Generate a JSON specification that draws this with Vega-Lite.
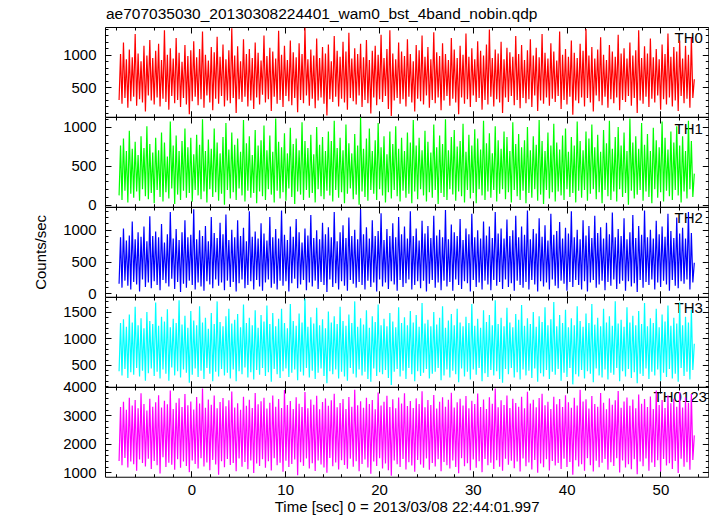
{
"$schema": "https://vega.github.io/schema/vega-lite/v6.json",
"padding": {"left": 33, "top": 6, "right": 0, "bottom": 0},
"config": {
  "view": {"stroke": "#000", "strokeWidth": 1},
  "font": "Liberation Sans",
  "axis": {"grid": false, "domain": false, "labelFont": "Liberation Sans", "labelFontSize": 15, "labelColor": "#000", "tickColor": "#000", "tickWidth": 1, "titleFont": "Liberation Sans", "titleFontSize": 15, "titleFontWeight": "normal", "titleColor": "#000", "labelFlush": false, "format": "d"}
},
"bounds": "flush",
"spacing": 0,
"datasets": {"lc": [
{"t":-7.7,"a":300,"b":120,"c":150,"d":380,"e":1400},
{"t":-7.544,"a":1010,"b":760,"c":880,"d":1290,"e":3300},
{"t":-7.388,"a":240,"b":60,"c":90,"d":300,"e":1250},
{"t":-7.232,"a":1190,"b":850,"c":1020,"d":1360,"e":3480},
{"t":-7.076,"a":330,"b":180,"c":200,"d":420,"e":1510},
{"t":-6.92,"a":930,"b":690,"c":830,"d":1220,"e":3200},
{"t":-6.764,"a":180,"b":30,"c":120,"d":250,"e":1170},
{"t":-6.608,"a":1080,"b":950,"c":910,"d":1450,"e":3620},
{"t":-6.452,"a":280,"b":140,"c":60,"d":360,"e":1380},
{"t":-6.296,"a":960,"b":720,"c":1130,"d":1300,"e":3350},
{"t":-6.14,"a":350,"b":90,"c":180,"d":310,"e":1290},
{"t":-5.984,"a":1320,"b":810,"c":850,"d":1600,"e":3540},
{"t":-5.828,"a":210,"b":170,"c":140,"d":440,"e":1060},
{"t":-5.672,"a":1020,"b":640,"c":960,"d":1250,"e":3250},
{"t":-5.516,"a":310,"b":50,"c":30,"d":280,"e":1450},
{"t":-5.36,"a":900,"b":880,"c":890,"d":1380,"e":3780},
{"t":-5.204,"a":260,"b":200,"c":220,"d":390,"e":1330},
{"t":-5.048,"a":1140,"b":730,"c":1050,"d":1190,"e":3400},
{"t":-4.892,"a":120,"b":110,"c":100,"d":200,"e":1210},
{"t":-4.736,"a":990,"b":1010,"c":820,"d":1500,"e":3170},
{"t":-4.58,"a":370,"b":70,"c":170,"d":340,"e":1480},
{"t":-4.424,"a":1230,"b":780,"c":1210,"d":1330,"e":3590},
{"t":-4.268,"a":290,"b":150,"c":80,"d":430,"e":1120},
{"t":-4.112,"a":950,"b":670,"c":900,"d":1270,"e":3310},
{"t":-3.956,"a":230,"b":20,"c":190,"d":290,"e":1400},
{"t":-3.8,"a":1060,"b":860,"c":970,"d":1680,"e":3460},
{"t":-3.644,"a":340,"b":190,"c":130,"d":370,"e":1250},
{"t":-3.488,"a":1170,"b":700,"c":880,"d":1240,"e":3710},
{"t":-3.332,"a":200,"b":100,"c":50,"d":240,"e":960},
{"t":-3.176,"a":920,"b":930,"c":1090,"d":1410,"e":3280},
{"t":-3.02,"a":320,"b":40,"c":210,"d":410,"e":1530},
{"t":-2.864,"a":1380,"b":800,"c":800,"d":1320,"e":3520},
{"t":-2.708,"a":270,"b":160,"c":160,"d":330,"e":1190},
{"t":-2.552,"a":1000,"b":620,"c":930,"d":1550,"e":3390},
{"t":-2.396,"a":150,"b":80,"c":110,"d":200,"e":1340},
{"t":-2.24,"a":1100,"b":1070,"c":1280,"d":1210,"e":3880},
{"t":-2.084,"a":360,"b":210,"c":230,"d":450,"e":1270},
{"t":-1.928,"a":940,"b":760,"c":860,"d":1370,"e":3230},
{"t":-1.772,"a":250,"b":10,"c":70,"d":300,"e":1090},
{"t":-1.616,"a":1260,"b":890,"c":1010,"d":1290,"e":3450},
{"t":-1.46,"a":300,"b":130,"c":180,"d":380,"e":1460},
{"t":-1.304,"a":1030,"b":690,"c":840,"d":1720,"e":3600},
{"t":-1.148,"a":190,"b":60,"c":20,"d":260,"e":1160},
{"t":-0.992,"a":890,"b":820,"c":960,"d":1260,"e":3300},
{"t":-0.836,"a":330,"b":180,"c":150,"d":410,"e":1380},
{"t":-0.68,"a":1150,"b":980,"c":1150,"d":1430,"e":3750},
{"t":-0.524,"a":230,"b":90,"c":90,"d":350,"e":1230},
{"t":-0.368,"a":980,"b":740,"c":880,"d":1200,"e":3360},
{"t":-0.212,"a":80,"b":150,"c":200,"d":160,"e":1010},
{"t":-0.056,"a":1070,"b":860,"c":920,"d":1520,"e":3490},
{"t":0.1,"a":280,"b":40,"c":130,"d":310,"e":1420},
{"t":0.256,"a":1210,"b":650,"c":1320,"d":1340,"e":3210},
{"t":0.412,"a":350,"b":190,"c":60,"d":430,"e":1300},
{"t":0.568,"a":960,"b":900,"c":850,"d":1250,"e":3650},
{"t":0.724,"a":220,"b":120,"c":170,"d":270,"e":1140},
{"t":0.88,"a":1090,"b":770,"c":990,"d":1610,"e":3420},
{"t":1.036,"a":310,"b":70,"c":110,"d":390,"e":1500},
{"t":1.192,"a":1360,"b":1100,"c":900,"d":1300,"e":3950},
{"t":1.348,"a":180,"b":170,"c":40,"d":230,"e":1210},
{"t":1.504,"a":1000,"b":690,"c":1060,"d":1390,"e":3270},
{"t":1.66,"a":370,"b":30,"c":190,"d":440,"e":1350},
{"t":1.816,"a":910,"b":840,"c":820,"d":1180,"e":3560},
{"t":1.972,"a":260,"b":200,"c":140,"d":330,"e":1080},
{"t":2.128,"a":1120,"b":720,"c":1200,"d":1480,"e":3380},
{"t":2.284,"a":140,"b":100,"c":80,"d":190,"e":1440},
{"t":2.44,"a":1040,"b":980,"c":950,"d":1270,"e":3700},
{"t":2.596,"a":320,"b":160,"c":220,"d":370,"e":1280},
{"t":2.752,"a":1280,"b":800,"c":870,"d":1700,"e":3250},
{"t":2.908,"a":240,"b":50,"c":120,"d":280,"e":920},
{"t":3.064,"a":970,"b":660,"c":1110,"d":1310,"e":3470},
{"t":3.22,"a":360,"b":140,"c":170,"d":420,"e":1390},
{"t":3.376,"a":1160,"b":870,"c":930,"d":1230,"e":3610},
{"t":3.532,"a":200,"b":0,"c":50,"d":300,"e":1180},
{"t":3.688,"a":930,"b":1050,"c":1240,"d":1420,"e":3320},
{"t":3.844,"a":290,"b":190,"c":200,"d":350,"e":1470},
{"t":4,"a":1070,"b":710,"c":840,"d":1560,"e":3530},
{"t":4.156,"a":250,"b":80,"c":100,"d":240,"e":1260},
{"t":4.312,"a":1410,"b":930,"c":1000,"d":1280,"e":3840},
{"t":4.468,"a":330,"b":160,"c":180,"d":410,"e":1330},
{"t":4.624,"a":990,"b":770,"c":880,"d":1350,"e":3280},
{"t":4.78,"a":100,"b":60,"c":30,"d":190,"e":1040},
{"t":4.936,"a":1130,"b":850,"c":1150,"d":1460,"e":3430},
{"t":5.092,"a":310,"b":210,"c":160,"d":380,"e":1490},
{"t":5.248,"a":900,"b":680,"c":900,"d":1210,"e":3200},
{"t":5.404,"a":270,"b":120,"c":220,"d":320,"e":1200},
{"t":5.56,"a":1240,"b":1090,"c":1030,"d":1640,"e":3660},
{"t":5.716,"a":350,"b":40,"c":80,"d":450,"e":1370},
{"t":5.872,"a":1010,"b":790,"c":820,"d":1290,"e":3340},
{"t":6.028,"a":200,"b":180,"c":130,"d":260,"e":1110},
{"t":6.184,"a":1090,"b":880,"c":1290,"d":1390,"e":3550},
{"t":6.34,"a":290,"b":90,"c":190,"d":360,"e":1420},
{"t":6.496,"a":950,"b":640,"c":890,"d":1250,"e":3260},
{"t":6.652,"a":160,"b":150,"c":60,"d":220,"e":980},
{"t":6.808,"a":1190,"b":960,"c":970,"d":1530,"e":3790},
{"t":6.964,"a":340,"b":20,"c":210,"d":400,"e":1310},
{"t":7.12,"a":1030,"b":760,"c":860,"d":1200,"e":3390},
{"t":7.276,"a":230,"b":170,"c":110,"d":310,"e":1230},
{"t":7.432,"a":910,"b":830,"c":1100,"d":1440,"e":3500},
{"t":7.588,"a":380,"b":110,"c":40,"d":440,"e":1460},
{"t":7.744,"a":1300,"b":1020,"c":940,"d":1320,"e":3620},
{"t":7.9,"a":260,"b":60,"c":170,"d":290,"e":1160},
{"t":8.056,"a":980,"b":700,"c":830,"d":1620,"e":3240},
{"t":8.212,"a":310,"b":200,"c":220,"d":360,"e":1390},
{"t":8.368,"a":1110,"b":890,"c":1200,"d":1270,"e":3450},
{"t":8.524,"a":130,"b":130,"c":90,"d":180,"e":1070},
{"t":8.68,"a":1050,"b":680,"c":880,"d":1480,"e":3700},
{"t":8.836,"a":350,"b":30,"c":150,"d":420,"e":1500},
{"t":8.992,"a":940,"b":1110,"c":1010,"d":1230,"e":3310},
{"t":9.148,"a":240,"b":180,"c":60,"d":320,"e":1250},
{"t":9.304,"a":1370,"b":810,"c":860,"d":1370,"e":3580},
{"t":9.46,"a":300,"b":80,"c":200,"d":250,"e":1340},
{"t":9.616,"a":1000,"b":740,"c":1300,"d":1560,"e":3260},
{"t":9.772,"a":190,"b":160,"c":120,"d":380,"e":1020},
{"t":9.928,"a":1140,"b":920,"c":920,"d":1290,"e":3890},
{"t":10.084,"a":360,"b":50,"c":190,"d":430,"e":1410},
{"t":10.24,"a":920,"b":660,"c":840,"d":1190,"e":3370},
{"t":10.396,"a":280,"b":210,"c":30,"d":270,"e":1190},
{"t":10.552,"a":1220,"b":990,"c":1050,"d":1650,"e":3510},
{"t":10.708,"a":220,"b":100,"c":160,"d":350,"e":1300},
{"t":10.864,"a":1040,"b":780,"c":890,"d":1330,"e":3230},
{"t":11.02,"a":330,"b":10,"c":230,"d":410,"e":1450},
{"t":11.176,"a":960,"b":850,"c":1170,"d":1240,"e":3640},
{"t":11.332,"a":110,"b":170,"c":80,"d":210,"e":900},
{"t":11.488,"a":1180,"b":700,"c":960,"d":1470,"e":3410},
{"t":11.644,"a":300,"b":130,"c":140,"d":370,"e":1360},
{"t":11.8,"a":1010,"b":1060,"c":800,"d":1300,"e":3300},
{"t":11.956,"a":250,"b":60,"c":210,"d":300,"e":1230},
{"t":12.112,"a":1420,"b":820,"c":1020,"d":1750,"e":3820},
{"t":12.268,"a":370,"b":190,"c":50,"d":440,"e":1490},
{"t":12.424,"a":930,"b":730,"c":910,"d":1220,"e":3250},
{"t":12.58,"a":210,"b":90,"c":170,"d":260,"e":1140},
{"t":12.736,"a":1080,"b":900,"c":1230,"d":1400,"e":3560},
{"t":12.892,"a":320,"b":150,"c":110,"d":390,"e":1320},
{"t":13.048,"a":990,"b":650,"c":870,"d":1280,"e":3380},
{"t":13.204,"a":170,"b":30,"c":200,"d":230,"e":1050},
{"t":13.36,"a":1250,"b":1000,"c":990,"d":1580,"e":3690},
{"t":13.516,"a":290,"b":200,"c":70,"d":350,"e":1420},
{"t":13.672,"a":950,"b":770,"c":850,"d":1250,"e":3220},
{"t":13.828,"a":340,"b":110,"c":180,"d":430,"e":1280},
{"t":13.984,"a":1120,"b":870,"c":1110,"d":1360,"e":3470},
{"t":14.14,"a":240,"b":70,"c":130,"d":290,"e":1170},
{"t":14.296,"a":1020,"b":690,"c":930,"d":1190,"e":3600},
{"t":14.452,"a":60,"b":180,"c":20,"d":150,"e":990},
{"t":14.608,"a":1160,"b":940,"c":1040,"d":1510,"e":3340},
{"t":14.764,"a":310,"b":120,"c":220,"d":380,"e":1510},
{"t":14.92,"a":900,"b":820,"c":880,"d":1300,"e":3530},
{"t":15.076,"a":270,"b":40,"c":100,"d":320,"e":1220},
{"t":15.232,"a":1290,"b":1080,"c":1280,"d":1420,"e":3760},
{"t":15.388,"a":350,"b":190,"c":160,"d":410,"e":1350},
{"t":15.544,"a":1060,"b":730,"c":820,"d":1270,"e":3290},
{"t":15.7,"a":200,"b":90,"c":60,"d":240,"e":1100},
{"t":15.856,"a":970,"b":860,"c":960,"d":1600,"e":3440},
{"t":16.012,"a":320,"b":160,"c":190,"d":370,"e":1430},
{"t":16.168,"a":1200,"b":700,"c":1070,"d":1330,"e":3580},
{"t":16.324,"a":260,"b":20,"c":120,"d":280,"e":1260},
{"t":16.48,"a":1050,"b":1030,"c":870,"d":1240,"e":3230},
{"t":16.636,"a":150,"b":140,"c":40,"d":200,"e":1130},
{"t":16.792,"a":1340,"b":790,"c":1190,"d":1450,"e":3650},
{"t":16.948,"a":330,"b":210,"c":210,"d":440,"e":1480},
{"t":17.104,"a":940,"b":660,"c":900,"d":1290,"e":3310},
{"t":17.26,"a":280,"b":70,"c":150,"d":330,"e":1200},
{"t":17.416,"a":1100,"b":910,"c":1000,"d":1700,"e":3900},
{"t":17.572,"a":230,"b":130,"c":90,"d":260,"e":1390},
{"t":17.728,"a":1010,"b":760,"c":850,"d":1220,"e":3360},
{"t":17.884,"a":370,"b":0,"c":180,"d":410,"e":1040},
{"t":18.04,"a":1170,"b":1120,"c":1320,"d":1380,"e":3500},
{"t":18.196,"a":190,"b":170,"c":130,"d":300,"e":1300},
{"t":18.352,"a":960,"b":720,"c":930,"d":1260,"e":3270},
{"t":18.508,"a":300,"b":100,"c":60,"d":370,"e":1450},
{"t":18.664,"a":1230,"b":850,"c":1040,"d":1530,"e":3620},
{"t":18.82,"a":250,"b":50,"c":200,"d":230,"e":1170},
{"t":18.976,"a":920,"b":980,"c":860,"d":1200,"e":3400},
{"t":19.132,"a":90,"b":190,"c":100,"d":180,"e":950},
{"t":19.288,"a":1060,"b":690,"c":1150,"d":1420,"e":3540},
{"t":19.444,"a":340,"b":140,"c":170,"d":430,"e":1380},
{"t":19.6,"a":1140,"b":830,"c":900,"d":1310,"e":3220},
{"t":19.756,"a":220,"b":60,"c":30,"d":290,"e":1230},
{"t":19.912,"a":1000,"b":1050,"c":980,"d":1640,"e":3810},
{"t":20.068,"a":310,"b":200,"c":220,"d":360,"e":1500},
{"t":20.224,"a":1310,"b":740,"c":1260,"d":1250,"e":3350},
{"t":20.38,"a":270,"b":120,"c":110,"d":320,"e":1140},
{"t":20.536,"a":950,"b":880,"c":840,"d":1370,"e":3480},
{"t":20.692,"a":360,"b":30,"c":170,"d":400,"e":1310},
{"t":20.848,"a":1090,"b":650,"c":1010,"d":1230,"e":3690},
{"t":21.004,"a":160,"b":160,"c":70,"d":250,"e":1080},
{"t":21.16,"a":1380,"b":940,"c":900,"d":1480,"e":3300},
{"t":21.316,"a":50,"b":80,"c":190,"d":120,"e":880},
{"t":21.472,"a":1020,"b":780,"c":1100,"d":1320,"e":3570},
{"t":21.628,"a":290,"b":190,"c":140,"d":370,"e":1420},
{"t":21.784,"a":930,"b":1010,"c":880,"d":1210,"e":3250},
{"t":21.94,"a":330,"b":110,"c":40,"d":420,"e":1290},
{"t":22.096,"a":1190,"b":720,"c":1200,"d":1590,"e":3630},
{"t":22.252,"a":240,"b":40,"c":210,"d":280,"e":1190},
{"t":22.408,"a":1050,"b":860,"c":930,"d":1290,"e":3420},
{"t":22.564,"a":310,"b":180,"c":100,"d":390,"e":1470},
{"t":22.72,"a":980,"b":690,"c":1050,"d":1400,"e":3780},
{"t":22.876,"a":200,"b":90,"c":160,"d":230,"e":1100},
{"t":23.032,"a":1240,"b":930,"c":860,"d":1250,"e":3330},
{"t":23.188,"a":350,"b":140,"c":220,"d":440,"e":1360},
{"t":23.344,"a":1010,"b":800,"c":1290,"d":1520,"e":3510},
{"t":23.5,"a":260,"b":20,"c":60,"d":320,"e":1240},
{"t":23.656,"a":900,"b":1090,"c":900,"d":1300,"e":3260},
{"t":23.812,"a":120,"b":170,"c":130,"d":190,"e":1020},
{"t":23.968,"a":1150,"b":760,"c":1020,"d":1440,"e":3600},
{"t":24.124,"a":320,"b":70,"c":190,"d":380,"e":1440},
{"t":24.28,"a":1070,"b":860,"c":830,"d":1220,"e":3400},
{"t":24.436,"a":280,"b":200,"c":80,"d":290,"e":1280},
{"t":24.592,"a":1300,"b":700,"c":1140,"d":1670,"e":3850},
{"t":24.748,"a":230,"b":120,"c":200,"d":350,"e":1160},
{"t":24.904,"a":970,"b":950,"c":940,"d":1280,"e":3290},
{"t":25.06,"a":370,"b":40,"c":30,"d":420,"e":1490},
{"t":25.216,"a":1120,"b":810,"c":1060,"d":1350,"e":3540},
{"t":25.372,"a":180,"b":160,"c":150,"d":240,"e":1090},
{"t":25.528,"a":930,"b":670,"c":870,"d":1230,"e":3370},
{"t":25.684,"a":300,"b":90,"c":210,"d":330,"e":1330},
{"t":25.84,"a":1350,"b":1030,"c":1220,"d":1500,"e":3720},
{"t":25.996,"a":250,"b":190,"c":90,"d":370,"e":1210},
{"t":26.152,"a":1040,"b":740,"c":910,"d":1260,"e":3240},
{"t":26.308,"a":340,"b":10,"c":170,"d":440,"e":1460},
{"t":26.464,"a":980,"b":890,"c":1000,"d":1390,"e":3480},
{"t":26.62,"a":140,"b":150,"c":50,"d":210,"e":1040},
{"t":26.776,"a":1180,"b":780,"c":880,"d":1610,"e":3640},
{"t":26.932,"a":290,"b":100,"c":200,"d":300,"e":1370},
{"t":27.088,"a":1010,"b":1100,"c":1310,"d":1200,"e":3310},
{"t":27.244,"a":360,"b":60,"c":110,"d":410,"e":1250},
{"t":27.4,"a":920,"b":700,"c":850,"d":1340,"e":3550},
{"t":27.556,"a":210,"b":200,"c":180,"d":260,"e":1140},
{"t":27.712,"a":1260,"b":870,"c":1080,"d":1460,"e":3800},
{"t":27.868,"a":320,"b":130,"c":40,"d":390,"e":1420},
{"t":28.024,"a":1080,"b":960,"c":960,"d":1250,"e":3280},
{"t":28.18,"a":260,"b":50,"c":220,"d":320,"e":1190},
{"t":28.336,"a":950,"b":750,"c":900,"d":1560,"e":3460},
{"t":28.492,"a":80,"b":170,"c":130,"d":170,"e":970},
{"t":28.648,"a":1140,"b":820,"c":1170,"d":1300,"e":3590},
{"t":28.804,"a":340,"b":110,"c":70,"d":430,"e":1500},
{"t":28.96,"a":1000,"b":1040,"c":840,"d":1230,"e":3350},
{"t":29.116,"a":240,"b":30,"c":190,"d":280,"e":1220},
{"t":29.272,"a":1330,"b":680,"c":1020,"d":1410,"e":3680},
{"t":29.428,"a":310,"b":190,"c":160,"d":370,"e":1320},
{"t":29.584,"a":970,"b":900,"c":930,"d":1290,"e":3250},
{"t":29.74,"a":190,"b":80,"c":30,"d":220,"e":1080},
{"t":29.896,"a":1100,"b":760,"c":1250,"d":1650,"e":3520},
{"t":30.052,"a":370,"b":150,"c":210,"d":410,"e":1450},
{"t":30.208,"a":930,"b":970,"c":880,"d":1240,"e":3400},
{"t":30.364,"a":270,"b":20,"c":100,"d":310,"e":1160},
{"t":30.52,"a":1210,"b":850,"c":990,"d":1370,"e":3770},
{"t":30.676,"a":330,"b":200,"c":170,"d":440,"e":1390},
{"t":30.832,"a":1060,"b":710,"c":860,"d":1200,"e":3300},
{"t":30.988,"a":150,"b":120,"c":60,"d":190,"e":1010},
{"t":31.144,"a":990,"b":1080,"c":1130,"d":1530,"e":3560},
{"t":31.3,"a":300,"b":60,"c":200,"d":340,"e":1470},
{"t":31.456,"a":1160,"b":790,"c":910,"d":1310,"e":3230},
{"t":31.612,"a":230,"b":170,"c":140,"d":270,"e":1250},
{"t":31.768,"a":1390,"b":920,"c":1050,"d":1440,"e":3640},
{"t":31.924,"a":350,"b":90,"c":50,"d":400,"e":1340},
{"t":32.08,"a":950,"b":660,"c":870,"d":1250,"e":3410},
{"t":32.236,"a":200,"b":190,"c":210,"d":300,"e":1120},
{"t":32.392,"a":1080,"b":1010,"c":1280,"d":1720,"e":3950},
{"t":32.548,"a":310,"b":40,"c":120,"d":380,"e":1430},
{"t":32.704,"a":1020,"b":830,"c":940,"d":1270,"e":3290},
{"t":32.86,"a":260,"b":140,"c":180,"d":230,"e":1200},
{"t":33.016,"a":1200,"b":720,"c":1020,"d":1390,"e":3530},
{"t":33.172,"a":100,"b":200,"c":70,"d":160,"e":1060},
{"t":33.328,"a":930,"b":940,"c":860,"d":1230,"e":3370},
{"t":33.484,"a":340,"b":70,"c":220,"d":420,"e":1480},
{"t":33.64,"a":1110,"b":870,"c":1160,"d":1580,"e":3700},
{"t":33.796,"a":270,"b":160,"c":100,"d":320,"e":1270},
{"t":33.952,"a":1040,"b":690,"c":900,"d":1300,"e":3260},
{"t":34.108,"a":360,"b":30,"c":160,"d":440,"e":1410},
{"t":34.264,"a":970,"b":1060,"c":990,"d":1210,"e":3590},
{"t":34.42,"a":220,"b":190,"c":40,"d":260,"e":1150},
{"t":34.576,"a":1290,"b":780,"c":1220,"d":1460,"e":3440},
{"t":34.732,"a":300,"b":110,"c":200,"d":360,"e":1380},
{"t":34.888,"a":1010,"b":910,"c":880,"d":1350,"e":3310},
{"t":35.044,"a":170,"b":60,"c":130,"d":220,"e":1030},
{"t":35.2,"a":1150,"b":740,"c":1050,"d":1630,"e":3660},
{"t":35.356,"a":330,"b":180,"c":90,"d":410,"e":1490},
{"t":35.512,"a":920,"b":830,"c":920,"d":1240,"e":3250},
{"t":35.668,"a":250,"b":20,"c":180,"d":300,"e":1220},
{"t":35.824,"a":1070,"b":1000,"c":1300,"d":1380,"e":3830},
{"t":35.98,"a":310,"b":150,"c":60,"d":390,"e":1350},
{"t":36.136,"a":1240,"b":700,"c":850,"d":1270,"e":3420},
{"t":36.292,"a":190,"b":90,"c":210,"d":250,"e":1100},
{"t":36.448,"a":990,"b":880,"c":1010,"d":1500,"e":3550},
{"t":36.604,"a":370,"b":200,"c":140,"d":430,"e":1440},
{"t":36.76,"a":1110,"b":770,"c":940,"d":1220,"e":3290},
{"t":36.916,"a":130,"b":50,"c":30,"d":180,"e":990},
{"t":37.072,"a":960,"b":1090,"c":1180,"d":1420,"e":3610},
{"t":37.228,"a":290,"b":130,"c":190,"d":340,"e":1310},
{"t":37.384,"a":1320,"b":820,"c":890,"d":1310,"e":3760},
{"t":37.54,"a":240,"b":10,"c":110,"d":280,"e":1180},
{"t":37.696,"a":1030,"b":690,"c":1070,"d":1590,"e":3360},
{"t":37.852,"a":340,"b":190,"c":170,"d":400,"e":1460},
{"t":38.008,"a":940,"b":930,"c":830,"d":1250,"e":3480},
{"t":38.164,"a":210,"b":80,"c":60,"d":230,"e":1070},
{"t":38.32,"a":1180,"b":760,"c":1250,"d":1360,"e":3230},
{"t":38.476,"a":320,"b":160,"c":220,"d":370,"e":1400},
{"t":38.632,"a":1050,"b":1040,"c":920,"d":1690,"e":3660},
{"t":38.788,"a":270,"b":40,"c":120,"d":310,"e":1240},
{"t":38.944,"a":910,"b":800,"c":980,"d":1230,"e":3390},
{"t":39.1,"a":360,"b":170,"c":80,"d":420,"e":1330},
{"t":39.256,"a":1360,"b":710,"c":1120,"d":1440,"e":3580},
{"t":39.412,"a":160,"b":120,"c":200,"d":200,"e":1120},
{"t":39.568,"a":1000,"b":890,"c":860,"d":1290,"e":3300},
{"t":39.724,"a":300,"b":60,"c":150,"d":350,"e":1480},
{"t":39.88,"a":1090,"b":980,"c":1030,"d":1540,"e":3710},
{"t":40.036,"a":230,"b":200,"c":40,"d":270,"e":1190},
{"t":40.192,"a":970,"b":680,"c":940,"d":1210,"e":3460},
{"t":40.348,"a":350,"b":100,"c":180,"d":440,"e":1370},
{"t":40.504,"a":1220,"b":870,"c":1290,"d":1380,"e":3270},
{"t":40.66,"a":70,"b":150,"c":100,"d":130,"e":920},
{"t":40.816,"a":1030,"b":760,"c":880,"d":1250,"e":3620},
{"t":40.972,"a":290,"b":30,"c":210,"d":320,"e":1430},
{"t":41.128,"a":950,"b":1070,"c":1000,"d":1610,"e":3350},
{"t":41.284,"a":250,"b":180,"c":130,"d":280,"e":1210},
{"t":41.44,"a":1170,"b":820,"c":850,"d":1330,"e":3900},
{"t":41.596,"a":340,"b":90,"c":60,"d":400,"e":1290},
{"t":41.752,"a":1060,"b":700,"c":1150,"d":1220,"e":3490},
{"t":41.908,"a":200,"b":190,"c":190,"d":240,"e":1060},
{"t":42.064,"a":1400,"b":940,"c":910,"d":1470,"e":3570},
{"t":42.22,"a":330,"b":50,"c":30,"d":380,"e":1500},
{"t":42.376,"a":990,"b":850,"c":1060,"d":1290,"e":3240},
{"t":42.532,"a":260,"b":140,"c":170,"d":330,"e":1250},
{"t":42.688,"a":1120,"b":1030,"c":870,"d":1650,"e":3680},
{"t":42.844,"a":120,"b":200,"c":210,"d":170,"e":1030},
{"t":43,"a":940,"b":740,"c":1220,"d":1260,"e":3400},
{"t":43.156,"a":370,"b":70,"c":90,"d":430,"e":1410},
{"t":43.312,"a":1080,"b":900,"c":950,"d":1390,"e":3310},
{"t":43.468,"a":280,"b":160,"c":140,"d":300,"e":1180},
{"t":43.624,"a":1270,"b":680,"c":1040,"d":1230,"e":3790},
{"t":43.78,"a":220,"b":20,"c":200,"d":260,"e":1340},
{"t":43.936,"a":1000,"b":960,"c":860,"d":1560,"e":3450},
{"t":44.092,"a":350,"b":190,"c":50,"d":410,"e":1470},
{"t":44.248,"a":920,"b":790,"c":1110,"d":1300,"e":3220},
{"t":44.404,"a":180,"b":110,"c":180,"d":220,"e":1090},
{"t":44.56,"a":1150,"b":1080,"c":930,"d":1420,"e":3600},
{"t":44.716,"a":310,"b":60,"c":120,"d":350,"e":1360},
{"t":44.872,"a":1050,"b":720,"c":1270,"d":1240,"e":3380},
{"t":45.028,"a":250,"b":170,"c":220,"d":310,"e":1230},
{"t":45.184,"a":970,"b":870,"c":880,"d":1700,"e":3530},
{"t":45.34,"a":340,"b":40,"c":70,"d":440,"e":1500},
{"t":45.496,"a":1310,"b":1000,"c":1010,"d":1280,"e":3860},
{"t":45.652,"a":140,"b":200,"c":150,"d":190,"e":1000},
{"t":45.808,"a":1020,"b":760,"c":900,"d":1350,"e":3270},
{"t":45.964,"a":300,"b":100,"c":200,"d":380,"e":1420},
{"t":46.12,"a":1100,"b":930,"c":1180,"d":1220,"e":3490},
{"t":46.276,"a":270,"b":150,"c":40,"d":280,"e":1170},
{"t":46.432,"a":940,"b":690,"c":850,"d":1590,"e":3630},
{"t":46.588,"a":360,"b":0,"c":190,"d":420,"e":1290},
{"t":46.744,"a":1190,"b":1110,"c":960,"d":1300,"e":3340},
{"t":46.9,"a":210,"b":180,"c":110,"d":250,"e":1110},
{"t":47.056,"a":990,"b":800,"c":1230,"d":1430,"e":3560},
{"t":47.212,"a":330,"b":80,"c":160,"d":360,"e":1460},
{"t":47.368,"a":1070,"b":880,"c":870,"d":1250,"e":3250},
{"t":47.524,"a":100,"b":130,"c":20,"d":150,"e":940},
{"t":47.68,"a":1380,"b":720,"c":1060,"d":1520,"e":3740},
{"t":47.836,"a":290,"b":190,"c":210,"d":330,"e":1380},
{"t":47.992,"a":950,"b":1050,"c":920,"d":1270,"e":3410},
{"t":48.148,"a":240,"b":50,"c":90,"d":290,"e":1220},
{"t":48.304,"a":1130,"b":770,"c":1300,"d":1670,"e":3580},
{"t":48.46,"a":350,"b":170,"c":180,"d":430,"e":1490},
{"t":48.616,"a":1020,"b":910,"c":880,"d":1230,"e":3300},
{"t":48.772,"a":190,"b":100,"c":130,"d":230,"e":1060},
{"t":48.928,"a":1250,"b":690,"c":1000,"d":1380,"e":3670},
{"t":49.084,"a":320,"b":20,"c":220,"d":370,"e":1350},
{"t":49.24,"a":960,"b":990,"c":860,"d":1290,"e":3230},
{"t":49.396,"a":260,"b":200,"c":60,"d":300,"e":1190},
{"t":49.552,"a":1090,"b":830,"c":1140,"d":1560,"e":3880},
{"t":49.708,"a":370,"b":90,"c":170,"d":410,"e":1430},
{"t":49.864,"a":930,"b":740,"c":930,"d":1210,"e":3370},
{"t":50.02,"a":150,"b":160,"c":100,"d":200,"e":1030},
{"t":50.176,"a":1160,"b":1070,"c":1050,"d":1450,"e":3540},
{"t":50.332,"a":310,"b":40,"c":200,"d":350,"e":1470},
{"t":50.488,"a":1010,"b":860,"c":890,"d":1320,"e":3260},
{"t":50.644,"a":230,"b":180,"c":140,"d":270,"e":1240},
{"t":50.8,"a":1330,"b":710,"c":1250,"d":1620,"e":3700},
{"t":50.956,"a":340,"b":110,"c":40,"d":420,"e":1320},
{"t":51.112,"a":970,"b":940,"c":980,"d":1240,"e":3430},
{"t":51.268,"a":200,"b":60,"c":210,"d":240,"e":1120},
{"t":51.424,"a":1120,"b":800,"c":870,"d":1390,"e":3590},
{"t":51.58,"a":290,"b":190,"c":120,"d":330,"e":1400},
{"t":51.736,"a":1050,"b":1010,"c":1190,"d":1280,"e":3310},
{"t":51.892,"a":130,"b":120,"c":80,"d":180,"e":980},
{"t":52.048,"a":1220,"b":760,"c":940,"d":1680,"e":3820},
{"t":52.204,"a":360,"b":30,"c":190,"d":440,"e":1480},
{"t":52.36,"a":940,"b":880,"c":1030,"d":1250,"e":3280},
{"t":52.516,"a":250,"b":170,"c":150,"d":290,"e":1200},
{"t":52.672,"a":1140,"b":690,"c":860,"d":1410,"e":3630},
{"t":52.828,"a":320,"b":80,"c":220,"d":370,"e":1360},
{"t":52.984,"a":1000,"b":1080,"c":1280,"d":1300,"e":3450},
{"t":53.14,"a":180,"b":200,"c":60,"d":220,"e":1090},
{"t":53.296,"a":1270,"b":820,"c":950,"d":1540,"e":3750},
{"t":53.452,"a":330,"b":100,"c":170,"d":400,"e":1440},
{"t":53.608,"a":620,"b":400,"c":480,"d":900,"e":2300}
]},
"data": {"name": "lc"},
"vconcat": [
{
  "width": 603.3, "height": 89.74,
  "layer": [
    {"mark": {"type": "line", "color": "#ff0000", "strokeWidth": 1.2, "clip": true},
     "encoding": {
       "x": {"field": "t", "type": "quantitative", "scale": {"domain": [-9.2, 55.1], "nice": false, "zero": false}, "axis": {"orient": "bottom", "values": [0,10,20,30,40,50], "tickSize": -6, "labels": false, "title": null}},
       "y": {"field": "a", "type": "quantitative", "scale": {"domain": [40, 1430], "nice": false, "zero": false}, "axis": {"orient": "left", "values": [500,1000], "tickSize": -6, "labelPadding": 15, "title": null}}}},
    {"mark": {"type": "line", "opacity": 0, "clip": true},
     "encoding": {
       "x": {"field": "t", "type": "quantitative", "scale": {"domain": [-9.2, 55.1], "nice": false, "zero": false}, "axis": {"orient": "bottom", "values": [-8,-6,-4,-2,2,4,6,8,12,14,16,18,22,24,26,28,32,34,36,38,42,44,46,48,52,54], "tickSize": -3, "labels": false, "title": null}},
       "y": {"field": "a", "type": "quantitative", "scale": {"domain": [40, 1430], "nice": false, "zero": false}, "axis": {"orient": "left", "values": [100,200,300,400,600,700,800,900,1100,1200,1300,1400], "tickSize": -3, "labels": false, "title": null}}}},
    {"mark": {"type": "line", "opacity": 0, "clip": true},
     "encoding": {
       "x": {"field": "t", "type": "quantitative", "scale": {"domain": [-9.2, 55.1], "nice": false, "zero": false}, "axis": {"orient": "top", "values": [0,10,20,30,40,50], "tickSize": -6, "labels": false, "title": "ae707035030_20130308224401_wam0_bst_4band_nobin.qdp", "titleFontSize": 15.5, "titleAngle": 0, "titleAlign": "left", "titleBaseline": "alphabetic", "titleX": 0.5, "titleY": -8.3}},
       "y": {"field": "a", "type": "quantitative", "scale": {"domain": [40, 1430], "nice": false, "zero": false}, "axis": {"orient": "right", "values": [500,1000], "tickSize": -6, "labels": false, "title": "TH0", "titleAngle": 0, "titleAlign": "right", "titleBaseline": "alphabetic", "titleX": -6, "titleY": 15.5}}}},
    {"mark": {"type": "line", "opacity": 0, "clip": true},
     "encoding": {
       "x": {"field": "t", "type": "quantitative", "scale": {"domain": [-9.2, 55.1], "nice": false, "zero": false}, "axis": {"orient": "top", "values": [-8,-6,-4,-2,2,4,6,8,12,14,16,18,22,24,26,28,32,34,36,38,42,44,46,48,52,54], "tickSize": -3, "labels": false, "title": null}},
       "y": {"field": "a", "type": "quantitative", "scale": {"domain": [40, 1430], "nice": false, "zero": false}, "axis": {"orient": "right", "values": [100,200,300,400,600,700,800,900,1100,1200,1300,1400], "tickSize": -3, "labels": false, "title": null}}}}
  ],
  "resolve": {"axis": {"x": "independent", "y": "independent"}}
},
{
  "width": 603.3, "height": 89.74,
  "layer": [
    {"mark": {"type": "line", "color": "#00ff00", "strokeWidth": 1.2, "clip": true},
     "encoding": {
       "x": {"field": "t", "type": "quantitative", "scale": {"domain": [-9.2, 55.1], "nice": false, "zero": false}, "axis": {"orient": "bottom", "values": [0,10,20,30,40,50], "tickSize": -6, "labels": false, "title": null}},
       "y": {"field": "b", "type": "quantitative", "scale": {"domain": [-26, 1128], "nice": false, "zero": false}, "axis": {"orient": "left", "values": [0,500,1000], "tickSize": -6, "labelPadding": 15, "title": null}}}},
    {"mark": {"type": "line", "opacity": 0, "clip": true},
     "encoding": {
       "x": {"field": "t", "type": "quantitative", "scale": {"domain": [-9.2, 55.1], "nice": false, "zero": false}, "axis": {"orient": "bottom", "values": [-8,-6,-4,-2,2,4,6,8,12,14,16,18,22,24,26,28,32,34,36,38,42,44,46,48,52,54], "tickSize": -3, "labels": false, "title": null}},
       "y": {"field": "b", "type": "quantitative", "scale": {"domain": [-26, 1128], "nice": false, "zero": false}, "axis": {"orient": "left", "values": [100,200,300,400,600,700,800,900,1100], "tickSize": -3, "labels": false, "title": null}}}},
    {"mark": {"type": "line", "opacity": 0, "clip": true},
     "encoding": {
       "x": {"field": "t", "type": "quantitative", "scale": {"domain": [-9.2, 55.1], "nice": false, "zero": false}, "axis": {"orient": "top", "values": [0,10,20,30,40,50], "tickSize": -6, "labels": false, "title": null}},
       "y": {"field": "b", "type": "quantitative", "scale": {"domain": [-26, 1128], "nice": false, "zero": false}, "axis": {"orient": "right", "values": [0,500,1000], "tickSize": -6, "labels": false, "title": "TH1", "titleAngle": 0, "titleAlign": "right", "titleBaseline": "alphabetic", "titleX": -6, "titleY": 16.5}}}},
    {"mark": {"type": "line", "opacity": 0, "clip": true},
     "encoding": {
       "x": {"field": "t", "type": "quantitative", "scale": {"domain": [-9.2, 55.1], "nice": false, "zero": false}, "axis": {"orient": "top", "values": [-8,-6,-4,-2,2,4,6,8,12,14,16,18,22,24,26,28,32,34,36,38,42,44,46,48,52,54], "tickSize": -3, "labels": false, "title": null}},
       "y": {"field": "b", "type": "quantitative", "scale": {"domain": [-26, 1128], "nice": false, "zero": false}, "axis": {"orient": "right", "values": [100,200,300,400,600,700,800,900,1100], "tickSize": -3, "labels": false, "title": null}}}}
  ],
  "resolve": {"axis": {"x": "independent", "y": "independent"}}
},
{
  "width": 603.3, "height": 89.74,
  "layer": [
    {"mark": {"type": "line", "color": "#0000ff", "strokeWidth": 1.2, "clip": true},
     "encoding": {
       "x": {"field": "t", "type": "quantitative", "scale": {"domain": [-9.2, 55.1], "nice": false, "zero": false}, "axis": {"orient": "bottom", "values": [0,10,20,30,40,50], "tickSize": -6, "labels": false, "title": null}},
       "y": {"field": "c", "type": "quantitative", "scale": {"domain": [-53, 1357], "nice": false, "zero": false}, "axis": {"orient": "left", "values": [0,500,1000], "tickSize": -6, "labelPadding": 15, "title": "Counts/sec", "titlePadding": 14}}}},
    {"mark": {"type": "line", "opacity": 0, "clip": true},
     "encoding": {
       "x": {"field": "t", "type": "quantitative", "scale": {"domain": [-9.2, 55.1], "nice": false, "zero": false}, "axis": {"orient": "bottom", "values": [-8,-6,-4,-2,2,4,6,8,12,14,16,18,22,24,26,28,32,34,36,38,42,44,46,48,52,54], "tickSize": -3, "labels": false, "title": null}},
       "y": {"field": "c", "type": "quantitative", "scale": {"domain": [-53, 1357], "nice": false, "zero": false}, "axis": {"orient": "left", "values": [100,200,300,400,600,700,800,900,1100,1200,1300], "tickSize": -3, "labels": false, "title": null}}}},
    {"mark": {"type": "line", "opacity": 0, "clip": true},
     "encoding": {
       "x": {"field": "t", "type": "quantitative", "scale": {"domain": [-9.2, 55.1], "nice": false, "zero": false}, "axis": {"orient": "top", "values": [0,10,20,30,40,50], "tickSize": -6, "labels": false, "title": null}},
       "y": {"field": "c", "type": "quantitative", "scale": {"domain": [-53, 1357], "nice": false, "zero": false}, "axis": {"orient": "right", "values": [0,500,1000], "tickSize": -6, "labels": false, "title": "TH2", "titleAngle": 0, "titleAlign": "right", "titleBaseline": "alphabetic", "titleX": -6, "titleY": 15.5}}}},
    {"mark": {"type": "line", "opacity": 0, "clip": true},
     "encoding": {
       "x": {"field": "t", "type": "quantitative", "scale": {"domain": [-9.2, 55.1], "nice": false, "zero": false}, "axis": {"orient": "top", "values": [-8,-6,-4,-2,2,4,6,8,12,14,16,18,22,24,26,28,32,34,36,38,42,44,46,48,52,54], "tickSize": -3, "labels": false, "title": null}},
       "y": {"field": "c", "type": "quantitative", "scale": {"domain": [-53, 1357], "nice": false, "zero": false}, "axis": {"orient": "right", "values": [100,200,300,400,600,700,800,900,1100,1200,1300], "tickSize": -3, "labels": false, "title": null}}}}
  ],
  "resolve": {"axis": {"x": "independent", "y": "independent"}}
},
{
  "width": 603.3, "height": 89.74,
  "layer": [
    {"mark": {"type": "line", "color": "#00ffff", "strokeWidth": 1.2, "clip": true},
     "encoding": {
       "x": {"field": "t", "type": "quantitative", "scale": {"domain": [-9.2, 55.1], "nice": false, "zero": false}, "axis": {"orient": "bottom", "values": [0,10,20,30,40,50], "tickSize": -6, "labels": false, "title": null}},
       "y": {"field": "d", "type": "quantitative", "scale": {"domain": [85, 1783], "nice": false, "zero": false}, "axis": {"orient": "left", "values": [500,1000,1500], "tickSize": -6, "labelPadding": 15, "title": null}}}},
    {"mark": {"type": "line", "opacity": 0, "clip": true},
     "encoding": {
       "x": {"field": "t", "type": "quantitative", "scale": {"domain": [-9.2, 55.1], "nice": false, "zero": false}, "axis": {"orient": "bottom", "values": [-8,-6,-4,-2,2,4,6,8,12,14,16,18,22,24,26,28,32,34,36,38,42,44,46,48,52,54], "tickSize": -3, "labels": false, "title": null}},
       "y": {"field": "d", "type": "quantitative", "scale": {"domain": [85, 1783], "nice": false, "zero": false}, "axis": {"orient": "left", "values": [100,200,300,400,600,700,800,900,1100,1200,1300,1400,1600,1700], "tickSize": -3, "labels": false, "title": null}}}},
    {"mark": {"type": "line", "opacity": 0, "clip": true},
     "encoding": {
       "x": {"field": "t", "type": "quantitative", "scale": {"domain": [-9.2, 55.1], "nice": false, "zero": false}, "axis": {"orient": "top", "values": [0,10,20,30,40,50], "tickSize": -6, "labels": false, "title": null}},
       "y": {"field": "d", "type": "quantitative", "scale": {"domain": [85, 1783], "nice": false, "zero": false}, "axis": {"orient": "right", "values": [500,1000,1500], "tickSize": -6, "labels": false, "title": "TH3", "titleAngle": 0, "titleAlign": "right", "titleBaseline": "alphabetic", "titleX": -6, "titleY": 15.5}}}},
    {"mark": {"type": "line", "opacity": 0, "clip": true},
     "encoding": {
       "x": {"field": "t", "type": "quantitative", "scale": {"domain": [-9.2, 55.1], "nice": false, "zero": false}, "axis": {"orient": "top", "values": [-8,-6,-4,-2,2,4,6,8,12,14,16,18,22,24,26,28,32,34,36,38,42,44,46,48,52,54], "tickSize": -3, "labels": false, "title": null}},
       "y": {"field": "d", "type": "quantitative", "scale": {"domain": [85, 1783], "nice": false, "zero": false}, "axis": {"orient": "right", "values": [100,200,300,400,600,700,800,900,1100,1200,1300,1400,1600,1700], "tickSize": -3, "labels": false, "title": null}}}}
  ],
  "resolve": {"axis": {"x": "independent", "y": "independent"}}
},
{
  "width": 603.3, "height": 89.74,
  "layer": [
    {"mark": {"type": "line", "color": "#ff00ff", "strokeWidth": 1.2, "clip": true},
     "encoding": {
       "x": {"field": "t", "type": "quantitative", "scale": {"domain": [-9.2, 55.1], "nice": false, "zero": false}, "axis": {"orient": "bottom", "values": [0,10,20,30,40,50], "tickSize": -6, "labelPadding": 12, "title": "Time [sec] 0 = 2013/03/08 22:44:01.997", "titlePadding": 2}},
       "y": {"field": "e", "type": "quantitative", "scale": {"domain": [848, 4000], "nice": false, "zero": false}, "axis": {"orient": "left", "values": [1000,2000,3000,4000], "tickSize": -6, "labelPadding": 15, "title": null}}}},
    {"mark": {"type": "line", "opacity": 0, "clip": true},
     "encoding": {
       "x": {"field": "t", "type": "quantitative", "scale": {"domain": [-9.2, 55.1], "nice": false, "zero": false}, "axis": {"orient": "bottom", "values": [-8,-6,-4,-2,2,4,6,8,12,14,16,18,22,24,26,28,32,34,36,38,42,44,46,48,52,54], "tickSize": -3, "labels": false, "title": null}},
       "y": {"field": "e", "type": "quantitative", "scale": {"domain": [848, 4000], "nice": false, "zero": false}, "axis": {"orient": "left", "values": [1200,1400,1600,1800,2200,2400,2600,2800,3200,3400,3600,3800], "tickSize": -3, "labels": false, "title": null}}}},
    {"mark": {"type": "line", "opacity": 0, "clip": true},
     "encoding": {
       "x": {"field": "t", "type": "quantitative", "scale": {"domain": [-9.2, 55.1], "nice": false, "zero": false}, "axis": {"orient": "top", "values": [0,10,20,30,40,50], "tickSize": -6, "labels": false, "title": null}},
       "y": {"field": "e", "type": "quantitative", "scale": {"domain": [848, 4000], "nice": false, "zero": false}, "axis": {"orient": "right", "values": [1000,2000,3000], "tickSize": -6, "labels": false, "title": "TH0123", "titleAngle": 0, "titleAlign": "right", "titleBaseline": "alphabetic", "titleX": -2, "titleY": 15}}}},
    {"mark": {"type": "line", "opacity": 0, "clip": true},
     "encoding": {
       "x": {"field": "t", "type": "quantitative", "scale": {"domain": [-9.2, 55.1], "nice": false, "zero": false}, "axis": {"orient": "top", "values": [-8,-6,-4,-2,2,4,6,8,12,14,16,18,22,24,26,28,32,34,36,38,42,44,46,48,52,54], "tickSize": -3, "labels": false, "title": null}},
       "y": {"field": "e", "type": "quantitative", "scale": {"domain": [848, 4000], "nice": false, "zero": false}, "axis": {"orient": "right", "values": [1200,1400,1600,1800,2200,2400,2600,2800,3200,3400,3600,3800], "tickSize": -3, "labels": false, "title": null}}}}
  ],
  "resolve": {"axis": {"x": "independent", "y": "independent"}}
}
]
}
